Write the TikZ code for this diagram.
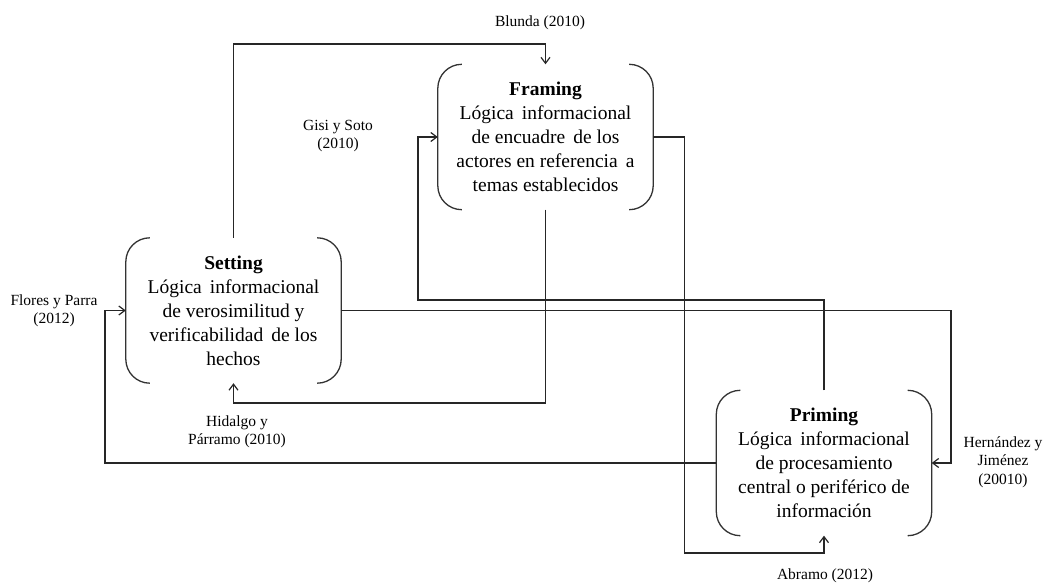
\documentclass[tikz,border=0pt]{standalone}
\usepackage{fontspec}
\setmainfont{Liberation Serif}
\usetikzlibrary{arrows.meta,calc}
\begin{document}
\begin{tikzpicture}[x=1pt,y=-1pt,
 conn/.style={draw=black!85, line width=1.3pt},
 arr/.style={conn,-{Straight Barb[length=6pt,width=9pt,line width=1.2pt]}},
 boxnode/.style={minimum width=215pt, minimum height=145pt, inner sep=0pt, align=center, font=\fontsize{19.5}{24}\selectfont},
 lbl/.style={align=center, font=\fontsize{15.5}{18.5}\selectfont, inner sep=0pt},
 bracket/.style={draw=black!80, line width=1.3pt, rounded corners=24pt}
]
\useasboundingbox (0,0) rectangle (1046,585);

\node[boxnode] (S) at (233.5,310.5) {\textbf{Setting}\\Lógica\ \,informacional\\de verosimilitud y\\verificabilidad\ \,de los\\hechos};
\node[boxnode] (F) at (545.5,137) {\textbf{Framing}\\Lógica\ \,informacional\\de encuadre\ \,de los\\actores en referencia\ \,a\\temas establecidos};
\node[boxnode] (P) at (824,463) {\textbf{Priming}\\Lógica\ \,informacional\\de procesamiento\\central o periférico de\\información};

\foreach \n in {S,F,P}{
 \draw[bracket] ($(\n.north west)+(24,0)$) -- (\n.north west) -- (\n.south west) -- ($(\n.south west)+(24,0)$);
 \draw[bracket] ($(\n.north east)+(-24,0)$) -- (\n.north east) -- (\n.south east) -- ($(\n.south east)+(-24,0)$);
}

\coordinate (top) at (0,44);
\coordinate (g) at (418,300);
\coordinate (h) at (0,403);
\coordinate (hj) at (951,0);
\coordinate (fp) at (105,0);
\coordinate (ab) at (684.5,553);

\draw[arr] (S.north) -- (S.north |- top) -| (F.north);
\draw[arr] (P.north) |- (g) |- (F.west);
\draw[arr] (F.south) -- (F.south |- h) -| (S.south);
\draw[arr] (S.east) -- (S.east -| hj) |- (P.east);
\draw[arr] (P.west) -- (P.west -| fp) |- (S.west);
\draw[arr] (F.east) -| (ab) -| (P.south);

\node[lbl] (l1) at (540,23) {Blunda (2010)};
\node[lbl] (l2) at (338,136) {Gisi y Soto\\(2010)};
\node[lbl] (l3) at (237,432) {Hidalgo y\\Párramo (2010)};
\node[lbl] (l4) at (1003,462) {Hernández y\\Jiménez\\(20010)};
\node[lbl] (l5) at (54,311) {Flores y Parra\\(2012)};
\node[lbl] (l6) at (825,576) {Abramo (2012)};
\end{tikzpicture}
\end{document}
